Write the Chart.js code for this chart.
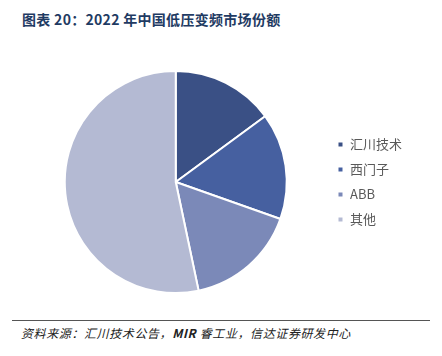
<!DOCTYPE html>
<html>
<head>
<meta charset="utf-8">
<script src="https://cdn.jsdelivr.net/npm/chart.js@4/dist/chart.umd.min.js"></script>
<style>
  html, body { margin: 0; padding: 0; background: #fff; }
  body { width: 442px; height: 356px; position: relative; overflow: hidden; font-family: "Noto Sans CJK SC", "Noto Sans", sans-serif; }
  #title { position: absolute; left: 22px; top: 9px; font-size: 14px; font-weight: bold; color: #1F3B63; white-space: nowrap; letter-spacing: 0.3px; }
  #wrap { position: absolute; left: 0; top: 70px; width: 442px; height: 224px; }
  #rule { position: absolute; left: 12px; top: 320px; width: 418px; height: 0; border-top: 1.5px solid #555; }
  #source { position: absolute; left: 21px; top: 324px; font-size: 12px; font-style: italic; color: #222; white-space: nowrap; letter-spacing: 0.6px; }
</style>
</head>
<body>
<div id="title">图表 20：2022 年中国低压变频市场份额</div>
<div id="wrap"><canvas id="c"></canvas></div>
<div id="rule"></div>
<div id="source">资料来源：汇川技术公告，<b>MIR</b> 睿工业，信达证券研发中心</div>
<script>
const categories = ["汇川技术", "西门子", "ABB", "其他"];
const shares = [14.9, 15.5, 16.3, 53.3];
const colors = ["#3A5085", "#4660A0", "#7B89B8", "#B4BAD3"];

new Chart(document.getElementById("c"), {
  type: "pie",
  data: {
    labels: categories,
    datasets: [{
      data: shares,
      backgroundColor: colors,
      borderColor: "#ffffff",
      borderWidth: 2
    }]
  },
  options: {
    responsive: true,
    maintainAspectRatio: false,
    animation: false,
    layout: { padding: { left: 26, right: 30 } },
    plugins: {
      tooltip: { enabled: false },
      legend: {
        position: "right",
        labels: {
          boxWidth: 6,
          boxHeight: 6,
          padding: 12,
          color: "#595959",
          font: { size: 13, family: "'Noto Sans CJK SC', sans-serif" }
        }
      }
    }
  }
});
</script>
</body>
</html>
